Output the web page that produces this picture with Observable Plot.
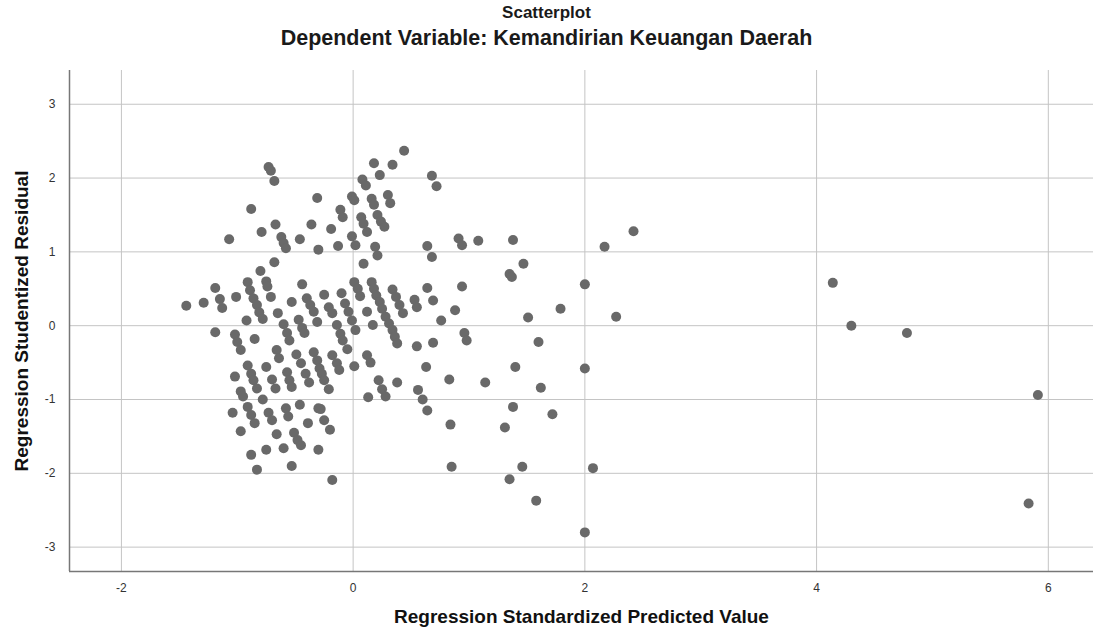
<!DOCTYPE html>
<html>
<head>
<meta charset="utf-8">
<script src="https://cdn.jsdelivr.net/npm/d3@7"></script>
<script src="https://cdn.jsdelivr.net/npm/@observablehq/plot@0.6"></script>
<style>
  html, body { margin: 0; padding: 0; background: #fff; }
  #wrap { position: relative; width: 1093px; height: 635px; overflow: hidden; font-family: "Liberation Sans", Arial, sans-serif; }
  #title { position: absolute; left: 0; width: 1093px; top: 3px; text-align: center; font-weight: bold; font-size: 17px; line-height: 20px; color: #1a1a1a; }
  #subtitle { position: absolute; left: 0; width: 1093px; top: 26px; text-align: center; font-weight: bold; font-size: 21.5px; line-height: 24px; color: #1a1a1a; }
  #chart { position: absolute; left: 0; top: 60px; }
</style>
</head>
<body>
<div id="wrap">
  <div id="title">Scatterplot</div>
  <div id="subtitle">Dependent Variable: Kemandirian Keuangan Daerah</div>
  <div id="chart"></div>
</div>
<script>
// Regression Standardized Predicted Value
const predicted = [
  -0.73,-0.71,-0.68,-0.31,-0.88,-0.67,-0.36,-0.79,-0.62,-0.60,-0.58,-0.46,-0.30,-1.07,-0.68,-0.80,-0.75,-0.74,-0.71,-1.19,
  -1.15,-1.13,-1.01,-0.91,-0.89,-0.86,-0.83,-0.81,-0.78,-1.44,-1.29,-0.44,-0.53,-0.40,-0.37,-0.34,-0.65,-0.92,-0.47,-0.60,
  -0.31,-0.57,-0.55,-0.44,-0.42,-1.19,-1.02,-1.00,-0.97,-0.85,-0.66,-0.64,-0.49,-0.45,-0.34,-0.31,-0.29,-0.91,-0.88,-0.86,
  -0.75,-1.02,-0.83,-0.70,-0.67,-0.57,-0.55,-0.53,-0.41,-0.38,-0.97,-0.95,-0.78,-1.04,-0.91,-0.88,-0.85,-0.73,-0.70,-0.58,
  -0.56,-0.46,-0.39,-0.30,-0.97,-0.66,-0.51,-0.48,-0.45,-0.30,-0.88,-0.75,-0.60,-0.83,-0.53,
  0.44,0.18,0.34,0.23,0.68,0.72,0.08,0.11,-0.01,0.01,0.16,0.18,0.30,0.32,-0.11,-0.09,0.07,0.09,0.12,0.21,
  0.24,0.27,-0.19,-0.01,0.02,-0.13,0.19,0.21,0.64,0.68,0.09,0.01,0.04,0.06,0.16,0.18,0.20,0.23,0.25,0.28,
  0.31,0.34,0.37,0.40,0.43,-0.25,-0.10,-0.21,-0.18,-0.07,-0.04,-0.01,0.12,0.17,0.53,0.55,0.64,0.69,0.76,
  -0.14,-0.11,-0.09,-0.05,0.02,0.34,0.36,0.38,0.55,0.69,-0.27,-0.25,-0.18,-0.14,-0.12,0.01,0.12,0.15,-0.21,0.22,
  0.25,0.28,0.38,0.13,0.63,0.56,0.60,0.64,-0.28,-0.25,-0.20,-0.18,
  0.91,0.94,1.08,1.38,2.17,1.47,1.35,1.37,0.94,2.00,0.88,1.79,1.51,2.27,
  0.96,0.98,1.60,1.40,2.00,0.83,1.14,1.62,1.38,1.72,0.84,1.31,0.85,1.46,2.07,1.35,1.58,2.00,
  2.42,4.14,4.30,4.78,5.91,5.83
];
// Regression Studentized Residual
const residual = [
  2.15,2.10,1.96,1.73,1.58,1.37,1.37,1.27,1.20,1.12,1.05,1.17,1.03,1.17,0.86,0.74,0.60,0.53,0.39,0.51,
  0.36,0.24,0.39,0.59,0.48,0.37,0.28,0.18,0.09,0.27,0.31,0.56,0.32,0.37,0.28,0.19,0.17,0.07,0.08,0.02,
  0.05,-0.10,-0.20,-0.03,-0.10,-0.09,-0.12,-0.22,-0.33,-0.18,-0.33,-0.44,-0.39,-0.51,-0.36,-0.47,-0.58,-0.54,-0.65,-0.74,
  -0.56,-0.69,-0.85,-0.73,-0.85,-0.63,-0.74,-0.83,-0.65,-0.77,-0.89,-0.96,-1.00,-1.18,-1.10,-1.21,-1.32,-1.18,-1.28,-1.12,
  -1.23,-1.07,-1.32,-1.12,-1.43,-1.47,-1.45,-1.55,-1.62,-1.68,-1.75,-1.68,-1.66,-1.95,-1.90,
  2.37,2.20,2.18,2.04,2.03,1.89,1.98,1.90,1.75,1.70,1.72,1.64,1.77,1.66,1.57,1.47,1.47,1.38,1.27,1.50,
  1.41,1.34,1.31,1.21,1.09,1.08,1.07,0.95,1.08,0.93,0.84,0.59,0.50,0.40,0.59,0.50,0.41,0.32,0.23,0.12,
  0.03,0.49,0.39,0.28,0.17,0.42,0.44,0.25,0.17,0.30,0.19,0.07,0.19,0.01,0.35,0.25,0.51,0.34,0.07,
  0.01,-0.11,-0.20,-0.32,-0.06,-0.06,-0.15,-0.24,-0.28,-0.23,-0.65,-0.74,-0.40,-0.51,-0.60,-0.55,-0.40,-0.50,-0.86,-0.74,
  -0.86,-0.96,-0.77,-0.97,-0.56,-0.87,-1.00,-1.15,-1.13,-1.28,-1.41,-2.09,
  1.18,1.09,1.15,1.16,1.07,0.84,0.70,0.66,0.53,0.56,0.21,0.23,0.11,0.12,
  -0.10,-0.20,-0.22,-0.56,-0.58,-0.73,-0.77,-0.84,-1.10,-1.20,-1.34,-1.38,-1.91,-1.91,-1.93,-2.08,-2.37,-2.80,
  1.28,0.58,0.00,-0.10,-0.94,-2.41
];
const xTicks = [-2, 0, 2, 4, 6];
const yTicks = [-3, -2, -1, 0, 1, 2, 3];
const xDomain = [-2.448, 6.39];
const yDomain = [-3.33, 3.457];
const xLabel = "Regression Standardized Predicted Value";
const yLabel = "Regression Studentized Residual";

const points = predicted.map((p, i) => ({predicted: p, residual: residual[i]}));
const fmt = d => String(d);

const chart = Plot.plot({
  width: 1093,
  height: 575,
  marginLeft: 69,
  marginRight: 0,
  marginTop: 10,
  marginBottom: 64,
  style: {fontFamily: "'Liberation Sans', Arial, sans-serif", fontSize: "12px", color: "#333", background: "#fff"},
  x: {domain: xDomain},
  y: {domain: yDomain},
  marks: [
    Plot.gridX(xTicks, {stroke: "#c4c4c4", strokeOpacity: 1}),
    Plot.gridY(yTicks, {stroke: "#c4c4c4", strokeOpacity: 1}),
    Plot.axisX(xTicks, {tickSize: 0, tickPadding: 12, tickFormat: fmt, label: null, fill: "#333"}),
    Plot.axisY(yTicks, {tickSize: 0, tickPadding: 14, tickFormat: fmt, label: null, fill: "#333"}),
    Plot.ruleX(xDomain.slice(0, 1), {stroke: "#777", strokeWidth: 1.5}),
    Plot.ruleY(yDomain.slice(0, 1), {stroke: "#777", strokeWidth: 1.5}),
    Plot.dot(points, {x: "predicted", y: "residual", r: 5, fill: "#696969", stroke: "none"}),
    Plot.text([xLabel], {frameAnchor: "bottom", dy: 51, textAnchor: "middle", fontWeight: "bold", fontSize: 19, fill: "#111", text: d => d}),
    Plot.text([yLabel], {frameAnchor: "left", dx: -48, textAnchor: "middle", rotate: -90, fontWeight: "bold", fontSize: 19, fill: "#111", text: d => d})
  ]
});
document.getElementById("chart").appendChild(chart);
</script>
</body>
</html>
